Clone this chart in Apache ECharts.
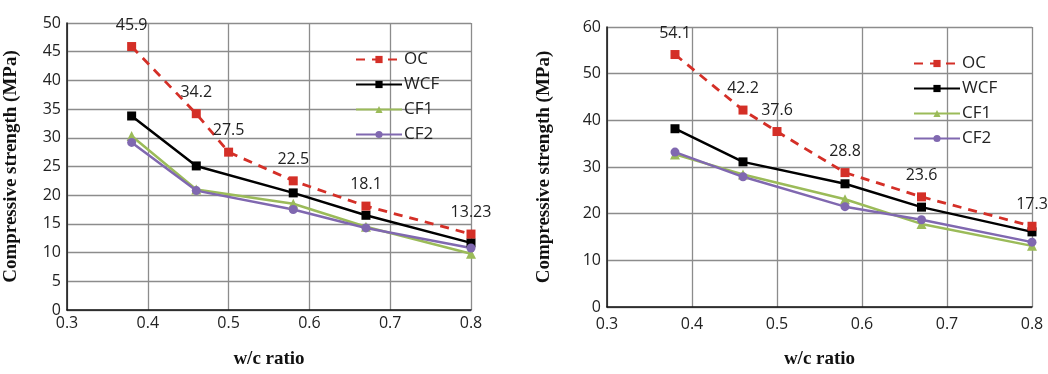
<!DOCTYPE html>
<html>
<head>
<meta charset="utf-8">
<script src="https://cdn.jsdelivr.net/npm/echarts@6/dist/echarts.min.js"></script>
<style>
  html, body { margin: 0; padding: 0; background: #fff; }
  #chart { width: 1048px; height: 374px; }
</style>
</head>
<body>
<div id="chart"></div>
<script>
// water/cement ratios tested
const wcRatio = [0.38, 0.46, 0.5, 0.58, 0.67, 0.8];
const wcRatioBlends = [0.38, 0.46, 0.58, 0.67, 0.8];

// compressive strength (MPa), left panel
const leftOC  = [45.9, 34.2, 27.5, 22.5, 18.1, 13.23];
const leftWCF = [33.8, 25.1, 20.4, 16.5, 11.7];
const leftCF1 = [30.3, 21.0, 18.5, 14.5, 9.8];
const leftCF2 = [29.2, 20.8, 17.5, 14.3, 10.8];

// compressive strength (MPa), right panel
const rightOC  = [54.1, 42.2, 37.6, 28.8, 23.6, 17.3];
const rightWCF = [38.2, 31.1, 26.4, 21.4, 16.1];
const rightCF1 = [32.7, 28.4, 23.1, 17.8, 13.1];
const rightCF2 = [33.2, 27.9, 21.5, 18.7, 13.9];

// text labels over the OC points
const leftOCLabels  = ['45.9', '34.2', '27.5', '22.5', '18.1', '13.23'];
const rightOCLabels = ['54.1', '42.2', '37.6', '28.8', '23.6', '17.3'];

const seriesNames = ['OC', 'WCF', 'CF1', 'CF2'];

const pair = (xs, ys) => xs.map((x, i) => [x, ys[i]]);

const COLORS = { OC: '#d42f27', WCF: '#000000', CF1: '#9bbb59', CF2: '#8068b0' };
const tickFont = { fontFamily: 'Open Sans', fontSize: 16, color: '#222' };
const titleFont = { fontFamily: 'Liberation Serif', fontWeight: 'bold', fontSize: 19, color: '#111' };

function xAxis(gridIndex, gap, margin) {
  return {
    type: 'value', gridIndex, min: 0.3, max: 0.8, interval: 0.1,
    name: 'w/c ratio', nameLocation: 'middle', nameGap: gap, nameTextStyle: titleFont,
    axisLine: { lineStyle: { color: '#111', width: 1.5 } },
    axisTick: { show: false },
    axisLabel: Object.assign({ margin, formatter: v => v.toFixed(1) }, tickFont),
    splitLine: { show: true, lineStyle: { color: '#8c8c8c', width: 1.3 } }
  };
}
function yAxis(gridIndex, max, interval, gap) {
  return {
    type: 'value', gridIndex, min: 0, max, interval,
    name: 'Compressive strength (MPa)', nameLocation: 'middle', nameGap: gap, nameTextStyle: titleFont,
    axisLine: { show: true, lineStyle: { color: '#111', width: 1.5 } },
    axisTick: { show: false },
    axisLabel: Object.assign({ margin: 6 }, tickFont),
    splitLine: { show: true, lineStyle: { color: '#8c8c8c', width: 1.3 } }
  };
}

function makeSeries(idx, oc, wcf, cf1, cf2, labels) {
  const common = { xAxisIndex: idx, yAxisIndex: idx, type: 'line', z: 3 };
  return [
    Object.assign({}, common, {
      name: 'OC', data: pair(wcRatio, oc), symbol: 'rect', symbolSize: 9,
      lineStyle: { color: COLORS.OC, width: 2.8, type: [9, 7] },
      itemStyle: { color: COLORS.OC },
      label: {
        show: true, position: 'top', distance: 9,
        fontFamily: 'Open Sans', fontSize: 16, color: '#222',
        formatter: p => labels[p.dataIndex]
      },
      z: 4
    }),
    Object.assign({}, common, {
      name: 'WCF', data: pair(wcRatioBlends, wcf), symbol: 'rect', symbolSize: 9,
      lineStyle: { color: COLORS.WCF, width: 2.5 }, itemStyle: { color: COLORS.WCF }
    }),
    Object.assign({}, common, {
      name: 'CF1', data: pair(wcRatioBlends, cf1), symbol: 'triangle', symbolSize: 10,
      lineStyle: { color: COLORS.CF1, width: 2.5 }, itemStyle: { color: COLORS.CF1 }
    }),
    Object.assign({}, common, {
      name: 'CF2', data: pair(wcRatioBlends, cf2), symbol: 'circle', symbolSize: 9,
      lineStyle: { color: COLORS.CF2, width: 2.5 }, itemStyle: { color: COLORS.CF2 }
    })
  ];
}

function legend(left, top) {
  return {
    data: seriesNames, orient: 'vertical', left, top,
    itemWidth: 46, itemHeight: 9, itemGap: 8,
    textStyle: { fontFamily: 'Open Sans', fontSize: 17, color: '#222', padding: [0, 0, 0, -3] }
  };
}

const chart = echarts.init(document.getElementById('chart'), null, { renderer: 'canvas' });
chart.setOption({
  animation: false,
  backgroundColor: '#fff',
  grid: [
    { left: 67, right: 577, top: 23, bottom: 54 },
    { left: 607, right: 16, top: 27, bottom: 51 }
  ],
  xAxis: [xAxis(0, 40, 5), xAxis(1, 43, 9)],
  yAxis: [yAxis(0, 50, 5, 46), yAxis(1, 60, 10, 53)],
  legend: [legend(350, 46), legend(908, 50)],
  series: makeSeries(0, leftOC, leftWCF, leftCF1, leftCF2, leftOCLabels)
    .concat(makeSeries(1, rightOC, rightWCF, rightCF1, rightCF2, rightOCLabels))
});
</script>
</body>
</html>
